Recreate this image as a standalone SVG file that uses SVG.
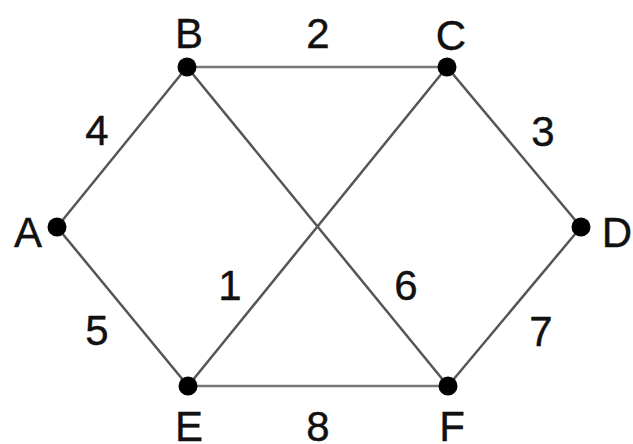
<svg xmlns="http://www.w3.org/2000/svg" width="633" height="444" viewBox="0 0 633 444">
<style>
.e{stroke:#555;stroke-width:2.5;fill:none}
.h{stroke:#777;stroke-width:2.5}
.n{fill:#000}
text{font-family:"Liberation Sans",Arial,sans-serif;font-size:42px;fill:#111;text-anchor:middle;stroke:#111;stroke-width:0.4}
</style>
<rect width="633" height="444" fill="#fff"/>
<g id="edges">
<line class="e" x1="57" y1="227" x2="187" y2="67"/>
<line class="h" x1="187" y1="67" x2="447" y2="67"/>
<line class="e" x1="447" y1="67" x2="581" y2="227"/>
<line class="e" x1="57" y1="227" x2="188" y2="386"/>
<line class="h" x1="188" y1="386" x2="448" y2="386"/>
<line class="e" x1="448" y1="386" x2="581" y2="227"/>
<line class="e" x1="187" y1="67" x2="448" y2="386"/>
<line class="e" x1="447" y1="67" x2="188" y2="386"/>
<text x="318" y="48">2</text>
<text x="97" y="145">4</text>
<text x="543" y="146">3</text>
<text x="230" y="300">1</text>
<text x="406" y="300">6</text>
<text x="97" y="345">5</text>
<text x="541" y="346">7</text>
<text x="318" y="441">8</text>
</g>
<g id="A"><circle class="n" cx="57" cy="227" r="9.5"/><text x="28" y="247">A</text></g>
<g id="B"><circle class="n" cx="187" cy="67" r="9.5"/><text x="189" y="48">B</text></g>
<g id="C"><circle class="n" cx="447" cy="67" r="9.5"/><text x="451" y="50">C</text></g>
<g id="D"><circle class="n" cx="581" cy="227" r="9.5"/><text x="617" y="247">D</text></g>
<g id="E"><circle class="n" cx="188" cy="386" r="9.5"/><text x="189" y="441">E</text></g>
<g id="F"><circle class="n" cx="448" cy="386" r="9.5"/><text x="452" y="441">F</text></g>
</svg>
